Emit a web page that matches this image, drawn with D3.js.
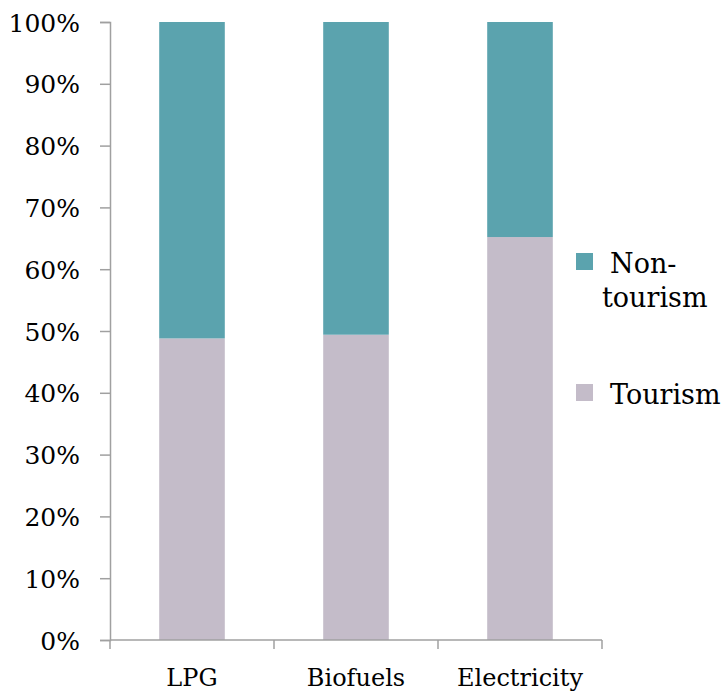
<!DOCTYPE html>
<html>
<head>
<meta charset="utf-8">
<script src="https://cdn.jsdelivr.net/npm/d3@7"></script>
<style>
  body { margin: 0; background: #fff; }
</style>
</head>
<body>
<div id="chart-area"></div>
<script>
// DATA
const categories = ["LPG", "Biofuels", "Electricity"]
const tourism = [48.8, 49.4, 65.2]
const nonTourism = [51.2, 50.6, 34.8]
const seriesNames = ["Tourism", "Non-tourism"]
const seriesColors = ["#c4bcc9", "#5ba3ae"]
const yTicks = [0, 10, 20, 30, 40, 50, 60, 70, 80, 90, 100]

const serif = "DejaVu Serif"

const margin = { left: 110, top: 22 }
const width = 492
const height = 618

const svg = d3.select("#chart-area").append("svg")
  .attr("width", 727)
  .attr("height", 692)

const chart = svg.append("g")
  .attr("transform", "translate(" + margin.left + ", " + margin.top + ")")

const xScale = d3.scaleBand()
  .domain(categories)
  .range([0, width])
  .paddingInner(0.6)
  .paddingOuter(0.3)

const yScale = d3.scaleLinear()
  .domain([0, 100])
  .range([height, 0])

// stacked data built from the arrays
const rows = categories.map((c, i) => ({ cat: c, Tourism: tourism[i], "Non-tourism": nonTourism[i] }))
const stacked = d3.stack().keys(seriesNames)(rows)

chart.selectAll("g.layer")
  .data(stacked)
  .enter().append("g")
    .attr("class", "layer")
    .attr("fill", (d, i) => seriesColors[i])
  .selectAll("rect")
  .data(d => d)
  .enter().append("rect")
    .attr("x", d => xScale(d.data.cat))
    .attr("width", xScale.bandwidth())
    .attr("y", d => yScale(d[1]))
    .attr("height", d => yScale(d[0]) - yScale(d[1]))

// Y axis
const yAxis = chart.append("g")
  .call(d3.axisLeft(yScale).tickValues(yTicks).tickFormat(d => d + "%").tickSize(10).tickPadding(20))
  .attr("font-family", serif)
  .attr("font-size", 25)
yAxis.select(".domain").attr("stroke", "#a0a0a0").attr("stroke-width", 1.5)
yAxis.selectAll(".tick line").attr("stroke", "#a0a0a0").attr("stroke-width", 1.5)
yAxis.selectAll("text").attr("fill", "#000").attr("dy", "0.36em")

// X axis: ticks sit at band boundaries
const xAxisG = chart.append("g")
  .attr("transform", "translate(0, " + height + ")")
xAxisG.append("line")
  .attr("x1", 0).attr("x2", width)
  .attr("stroke", "#a0a0a0").attr("stroke-width", 1.5)
const step = xScale.step()
const bounds = d3.range(categories.length + 1).map(i => i * step)
xAxisG.selectAll("line.sep")
  .data(bounds)
  .enter().append("line")
    .attr("class", "sep")
    .attr("x1", d => d).attr("x2", d => d)
    .attr("y1", 0).attr("y2", 9)
    .attr("stroke", "#a0a0a0").attr("stroke-width", 1.5)
xAxisG.selectAll("text")
  .data(categories)
  .enter().append("text")
    .attr("x", d => xScale(d) + xScale.bandwidth() / 2)
    .attr("y", 46)
    .attr("text-anchor", "middle")
    .attr("font-family", serif)
    .attr("font-size", 24)
    .text(d => d)

// Legend
const legend = svg.append("g").attr("transform", "translate(576, 0)")
const legendItems = [
  { name: "Non-tourism", color: seriesColors[1], y: 253, lines: ["Non-", "tourism"] },
  { name: "Tourism", color: seriesColors[0], y: 384, lines: ["Tourism"] }
]
legendItems.forEach(item => {
  legend.append("rect")
    .attr("x", 0).attr("y", item.y)
    .attr("width", 17).attr("height", 17)
    .attr("fill", item.color)
  const t = legend.append("text")
    .attr("x", 34)
    .attr("y", item.y + 20)
    .attr("font-family", serif)
    .attr("font-size", 27)
  item.lines.forEach((l, i) => {
    t.append("tspan")
      .attr("x", i === 0 ? 34 : 26)
      .attr("dy", i === 0 ? 0 : 34)
      .text(l)
  })
})
</script>
</body>
</html>
